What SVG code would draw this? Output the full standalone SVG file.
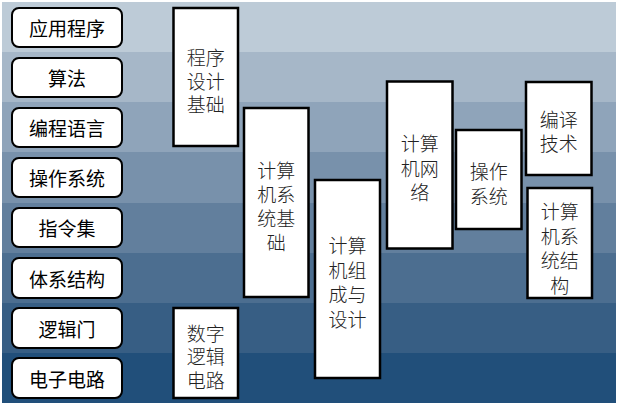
<svg xmlns="http://www.w3.org/2000/svg" width="619" height="407" viewBox="0 0 619 407">
<style>
.lb rect{fill:#fff;stroke:#000;stroke-width:2}
.lb text{font-family:"Noto Sans CJK SC","Noto Sans",sans-serif;font-size:19px;font-weight:400;fill:#000;text-anchor:middle;dominant-baseline:central}
.rb rect{fill:#fff;stroke:#000;stroke-width:2.5}
.rb text{font-family:"Noto Sans CJK SC","Noto Sans",sans-serif;font-size:19px;font-weight:300;fill:#222;text-anchor:middle;dominant-baseline:central}
</style>
<rect x="0" y="0" width="619" height="407" fill="#fff"/>
<g id="background">
<rect x="2" y="2" width="614" height="50" fill="#BDCBD7"/>
<rect x="2" y="52" width="614" height="50" fill="#A6B7C8"/>
<rect x="2" y="102" width="614" height="50" fill="#8FA4BA"/>
<rect x="2" y="152" width="614" height="51" fill="#7891AB"/>
<rect x="2" y="203" width="614" height="50" fill="#627F9D"/>
<rect x="2" y="253" width="614" height="50" fill="#4C6E90"/>
<rect x="2" y="303" width="614" height="50" fill="#375E84"/>
<rect x="2" y="353" width="614" height="50" fill="#214F7A"/>
</g>
<g id="connectors"></g>
<g id="layer1" class="lb"><rect x="12" y="8" width="110" height="39" rx="7"/><text x="67" y="27.5">应用程序</text></g>
<g id="layer2" class="lb"><rect x="12" y="58" width="110" height="39" rx="7"/><text x="67" y="77.5">算法</text></g>
<g id="layer3" class="lb"><rect x="12" y="108" width="110" height="39" rx="7"/><text x="67" y="127.5">编程语言</text></g>
<g id="layer4" class="lb"><rect x="12" y="158" width="110" height="39" rx="7"/><text x="67" y="177.5">操作系统</text></g>
<g id="layer5" class="lb"><rect x="12" y="208" width="110" height="39" rx="7"/><text x="67" y="227.5">指令集</text></g>
<g id="layer6" class="lb"><rect x="12" y="258" width="110" height="40" rx="7"/><text x="67" y="278">体系结构</text></g>
<g id="layer7" class="lb"><rect x="12" y="308" width="110" height="40" rx="7"/><text x="67" y="328">逻辑门</text></g>
<g id="layer8" class="lb"><rect x="12" y="358" width="110" height="40" rx="7"/><text x="67" y="378">电子电路</text></g>
<g id="course1" class="rb"><rect x="173.5" y="8" width="64.5" height="138"/><text x="205.7" y="56"><tspan x="205.7">程序</tspan><tspan x="205.7" dy="23.5">设计</tspan><tspan x="205.7" dy="23.5">基础</tspan></text></g>
<g id="course2" class="rb"><rect x="173.5" y="308" width="64.5" height="90"/><text x="205.7" y="331.5"><tspan x="205.7">数字</tspan><tspan x="205.7" dy="23.5">逻辑</tspan><tspan x="205.7" dy="23.5">电路</tspan></text></g>
<g id="course3" class="rb"><rect x="244" y="108" width="64.5" height="189"/><text x="276.2" y="169"><tspan x="276.2">计算</tspan><tspan x="276.2" dy="24">机系</tspan><tspan x="276.2" dy="24">统基</tspan><tspan x="276.2" dy="24">础</tspan></text></g>
<g id="course4" class="rb"><rect x="315" y="180" width="65" height="198"/><text x="347.5" y="244"><tspan x="347.5">计算</tspan><tspan x="347.5" dy="24.5">机组</tspan><tspan x="347.5" dy="24.5">成与</tspan><tspan x="347.5" dy="24.5">设计</tspan></text></g>
<g id="course5" class="rb"><rect x="387" y="81.5" width="65.5" height="167"/><text x="419.7" y="142"><tspan x="419.7">计算</tspan><tspan x="419.7" dy="24.5">机网</tspan><tspan x="419.7" dy="24.5">络</tspan></text></g>
<g id="course6" class="rb"><rect x="456" y="130" width="65.5" height="99"/><text x="488.7" y="170"><tspan x="488.7">操作</tspan><tspan x="488.7" dy="24.5">系统</tspan></text></g>
<g id="course7" class="rb"><rect x="526" y="82" width="65.5" height="93"/><text x="558.7" y="118"><tspan x="558.7">编译</tspan><tspan x="558.7" dy="24">技术</tspan></text></g>
<g id="course8" class="rb"><rect x="527.5" y="188" width="64.5" height="110"/><text x="559.7" y="210"><tspan x="559.7">计算</tspan><tspan x="559.7" dy="24.5">机系</tspan><tspan x="559.7" dy="24.5">统结</tspan><tspan x="559.7" dy="24.5">构</tspan></text></g>
</svg>
